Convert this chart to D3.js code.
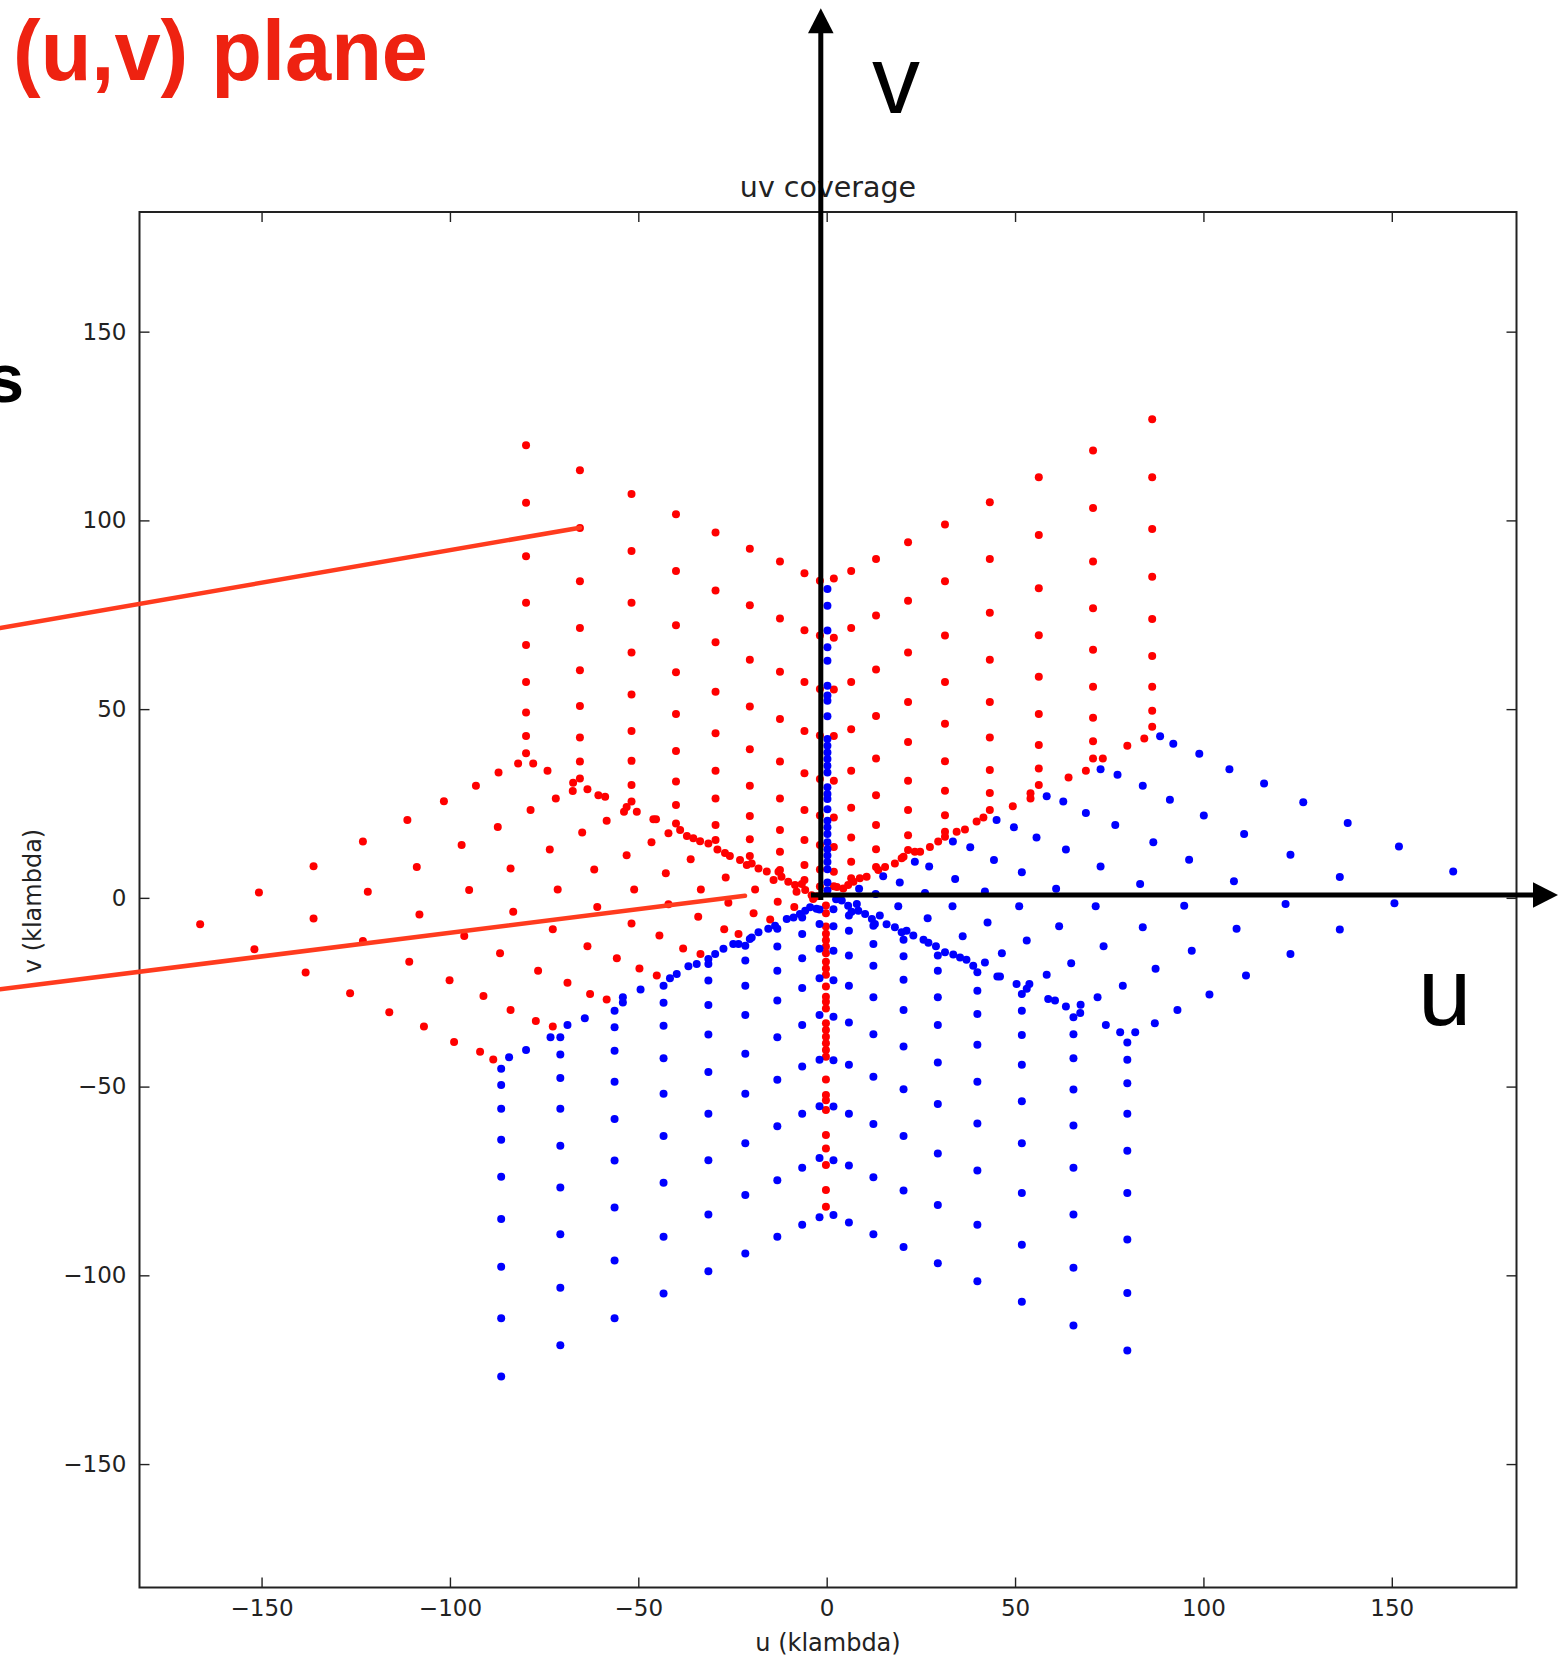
<!DOCTYPE html>
<html>
<head>
<meta charset="utf-8">
<script src="https://cdn.jsdelivr.net/npm/d3@7"></script>
<style>
  html, body { margin: 0; padding: 0; background: #fff; }
  svg { display: block; }
</style>
</head>
<body>
<div id="chart"></div>
<script>
// uv coverage: red = measured baselines, blue = their conjugates

const tickValues = [-150, -100, -50, 0, 50, 100, 150];

// red, upper-left block: columns of constant u
const redUpLeftU = [-79.8, -65.5, -51.8, -40.0, -29.5, -20.4, -12.4, -5.9, -1.8];
const redUpLeftV = [
  [119.9, 104.7, 90.5, 78.2, 67.0, 57.2, 49.1, 42.9, 38.3],
  [113.3, 98.0, 83.9, 71.5, 60.3, 50.8, 42.5, 36.1, 31.6],
  [107.0, 91.9, 78.2, 65.0, 53.9, 44.2, 36.3, 29.9, 25.5],
  [101.6, 86.6, 72.2, 59.8, 48.7, 38.9, 30.8, 24.6, 19.7],
  [96.8, 81.4, 67.7, 54.6, 43.6, 33.7, 26.3, 19.3, 15.3],
  [92.5, 77.5, 63.1, 50.7, 39.4, 29.7, 21.7, 15.5, 11.1],
  [89.1, 74.0, 59.9, 47.4, 36.1, 26.3, 18.0, 12.2, 7.4],
  [86.0, 70.9, 57.2, 44.2, 33.0, 23.3, 15.3, 8.7, 4.7],
  [84.0, 69.5, 55.3, 43.0, 31.5, 21.8, 14.0, 7.5, 3.0]
];

// red, upper-right block
const redUpRightU = [1.9, 6.5, 13.1, 21.6, 31.4, 43.3, 56.3, 70.7, 86.4];
const redUpRightV = [
  [84.6, 68.9, 55.2, 42.9, 31.0, 21.3, 13.5, 6.9, 3.1],
  [86.6, 71.5, 57.2, 44.7, 33.7, 23.9, 16.0, 9.6, 5.2],
  [89.8, 74.8, 60.5, 48.2, 36.9, 27.2, 19.3, 12.9, 8.2],
  [94.2, 78.7, 65.0, 51.9, 41.3, 31.0, 23.3, 16.6, 12.7],
  [98.9, 83.9, 69.5, 57.2, 46.1, 36.2, 28.4, 21.9, 17.5],
  [104.8, 89.8, 75.5, 63.1, 51.9, 42.5, 33.9, 27.8, 23.3],
  [111.4, 96.1, 82.0, 69.6, 58.6, 48.7, 40.5, 34.3, 29.9],
  [118.5, 103.3, 89.1, 76.7, 65.7, 55.9, 47.7, 41.5, 36.9],
  [126.8, 111.4, 97.7, 85.1, 73.9, 64.1, 55.9, 49.6, 45.3]
];

// red, left block (u, v)
const redLeftPts = [
  [-166.3, -7.0], [-150.7, 1.4], [-136.2, 8.4], [-123.1, 14.9], [-111.3, 20.6], [-101.6, 25.6], [-93.1, 29.7], [-87.1, 33.2], [-81.9, 35.6],
  [-151.9, -13.6], [-136.2, -5.5], [-121.8, 1.6], [-108.8, 8.2], [-96.9, 14.0], [-87.3, 18.8], [-78.6, 23.3], [-71.9, 26.3], [-67.3, 30.5],
  [-138.3, -19.8], [-123.1, -11.4], [-108.1, -4.4], [-94.9, 2.1], [-83.9, 7.8], [-73.5, 12.8], [-64.9, 17.3], [-58.4, 20.4], [-53.8, 22.8],
  [-126.5, -25.3], [-110.8, -16.9], [-96.2, -10.1], [-83.2, -3.7], [-71.4, 2.2], [-61.7, 7.5], [-53.1, 11.3], [-46.5, 14.7], [-42.0, 17.1],
  [-116.1, -30.3], [-100.1, -21.8], [-86.7, -14.7], [-72.7, -8.3], [-60.9, -2.4], [-51.1, 2.2], [-42.7, 6.5], [-36.1, 10.2], [-31.4, 14.4],
  [-106.9, -34.1], [-91.1, -26.0], [-76.6, -19.3], [-63.5, -12.8], [-51.8, -6.8], [-42.0, -1.7], [-33.4, 2.2], [-26.8, 5.4], [-21.2, 8.7],
  [-98.9, -38.2], [-83.9, -29.7], [-68.8, -22.5], [-55.7, -16.0], [-44.4, -10.0], [-34.1, -5.0], [-26.1, -1.3], [-19.0, 2.2], [-14.1, 4.7],
  [-92.0, -40.8], [-77.2, -32.6], [-62.8, -25.5], [-49.7, -18.7], [-38.1, -13.4], [-27.2, -8.3], [-19.4, -4.1], [-13.0, -1.0], [-8.0, 1.6],
  [-88.5, -42.8], [-72.7, -34.1], [-58.4, -26.9], [-45.1, -20.6], [-33.5, -14.9], [-23.4, -9.6], [-15.0, -5.7], [-8.6, -2.4], [-3.6, -0.3]
];

// red, dense arm lines
const redArmUpLeft = [
  [-77.9, 35.6], [-74.1, 33.7], [-67.4, 28.3], [-63.5, 28.8], [-60.6, 27.2], [-58.8, 26.8], [-53.1, 24.1], [-50.4, 22.8],
  [-46.0, 20.8], [-45.3, 20.8], [-38.9, 18.0], [-37.1, 16.4], [-35.4, 15.8], [-33.6, 15.0], [-29.0, 12.8], [-27.0, 11.9],
  [-25.7, 11.1], [-23.0, 10.0], [-19.9, 9.1], [-18.1, 7.8], [-15.9, 7.0], [-12.8, 6.9], [-12.0, 5.6], [-10.2, 4.3],
  [-8.4, 3.4], [-6.6, 3.7], [-5.7, 2.1], [-4.0, 0.7], [-2.5, 0.4]
];
const redArmUpRight = [
  [84.3, 42.2], [79.8, 40.3], [73.3, 36.9], [68.8, 33.7], [64.2, 31.9], [54.1, 27.7], [54.1, 26.3], [49.4, 24.3],
  [41.6, 21.3], [39.8, 20.2], [36.7, 18.1], [34.5, 17.5], [31.4, 16.2], [29.6, 14.9], [27.4, 13.5], [24.8, 12.2],
  [23.4, 12.2], [20.4, 10.9], [19.9, 10.5], [18.1, 9.1], [15.5, 8.2], [13.7, 7.4], [10.6, 5.6], [8.8, 5.2],
  [7.1, 4.3], [5.7, 3.4], [4.4, 2.5], [2.7, 2.9]
];
const redArmDownU = -0.2;
const redArmDownV = [-2.0, -4.1, -7.6, -9.5, -11.2, -12.9, -14.7, -16.9, -18.7, -20.4, -23.5, -26.2, -27.5, -29.3,
  -33.2, -35.0, -36.8, -38.5, -40.3, -42.1, -48.1, -52.2, -53.6, -56.2, -62.8, -66.4, -70.8, -77.4, -81.8];

// blue, lower-right block
const blueLowRightU = [79.8, 65.5, 51.8, 40.0, 29.5, 20.4, 12.4, 5.9, 1.8];
const blueLowRightV = [
  [-119.9, -104.7, -90.5, -78.2, -67.0, -57.2, -49.1, -42.9, -38.3],
  [-113.3, -98.0, -83.9, -71.5, -60.3, -50.8, -42.5, -36.1, -31.6],
  [-107.0, -91.9, -78.2, -65.0, -53.9, -44.2, -36.3, -29.9, -25.5],
  [-101.6, -86.6, -72.2, -59.8, -48.7, -38.9, -30.8, -24.6, -19.7],
  [-96.8, -81.4, -67.7, -54.6, -43.6, -33.7, -26.3, -19.3, -15.3],
  [-92.5, -77.5, -63.1, -50.7, -39.4, -29.7, -21.7, -15.5, -11.1],
  [-89.1, -74.0, -59.9, -47.4, -36.1, -26.3, -18.0, -12.2, -7.4],
  [-86.0, -70.9, -57.2, -44.2, -33.0, -23.3, -15.3, -8.7, -4.7],
  [-84.0, -69.5, -55.3, -43.0, -31.5, -21.8, -14.0, -7.5, -3.0]
];

// blue, lower-left block
const blueLowLeftU = [-1.9, -6.5, -13.1, -21.6, -31.4, -43.3, -56.3, -70.7, -86.4];
const blueLowLeftV = [
  [-84.6, -68.9, -55.2, -42.9, -31.0, -21.3, -13.5, -6.9, -3.1],
  [-86.6, -71.5, -57.2, -44.7, -33.7, -23.9, -16.0, -9.6, -5.2],
  [-89.8, -74.8, -60.5, -48.2, -36.9, -27.2, -19.3, -12.9, -8.2],
  [-94.2, -78.7, -65.0, -51.9, -41.3, -31.0, -23.3, -16.6, -12.7],
  [-98.9, -83.9, -69.5, -57.2, -46.1, -36.2, -28.4, -21.9, -17.5],
  [-104.8, -89.8, -75.5, -63.1, -51.9, -42.5, -33.9, -27.8, -23.3],
  [-111.4, -96.1, -82.0, -69.6, -58.6, -48.7, -40.5, -34.3, -29.9],
  [-118.5, -103.3, -89.1, -76.7, -65.7, -55.9, -47.7, -41.5, -36.9],
  [-126.8, -111.4, -97.7, -85.1, -73.9, -64.1, -55.9, -49.6, -45.3]
];

// blue, right block
const blueRightPts = [
  [166.3, 7.0], [150.7, -1.4], [136.2, -8.4], [123.1, -14.9], [111.3, -20.6], [101.6, -25.6], [93.1, -29.7], [87.1, -33.2], [81.9, -35.6],
  [151.9, 13.6], [136.2, 5.5], [121.8, -1.6], [108.8, -8.2], [96.9, -14.0], [87.3, -18.8], [78.6, -23.3], [71.9, -26.3], [67.3, -30.5],
  [138.3, 19.8], [123.1, 11.4], [108.1, 4.4], [94.9, -2.1], [83.9, -7.8], [73.5, -12.8], [64.9, -17.3], [58.4, -20.4], [53.8, -22.8],
  [126.5, 25.3], [110.8, 16.9], [96.2, 10.1], [83.2, 3.7], [71.4, -2.2], [61.7, -7.5], [53.1, -11.3], [46.5, -14.7], [42.0, -17.1],
  [116.1, 30.3], [100.1, 21.8], [86.7, 14.7], [72.7, 8.3], [60.9, 2.4], [51.1, -2.2], [42.7, -6.5], [36.1, -10.2], [31.4, -14.4],
  [106.9, 34.1], [91.1, 26.0], [76.6, 19.3], [63.5, 12.8], [51.8, 6.8], [42.0, 1.7], [33.4, -2.2], [26.8, -5.4], [21.2, -8.7],
  [98.9, 38.2], [83.9, 29.7], [68.8, 22.5], [55.7, 16.0], [44.4, 10.0], [34.1, 5.0], [26.1, 1.3], [19.0, -2.2], [14.1, -4.7],
  [92.0, 40.8], [77.2, 32.6], [62.8, 25.5], [49.7, 18.7], [38.1, 13.4], [27.2, 8.3], [19.4, 4.1], [13.0, 1.0], [8.0, -1.6],
  [88.5, 42.8], [72.7, 34.1], [58.4, 26.9], [45.1, 20.6], [33.5, 14.9], [23.4, 9.6], [15.0, 5.7], [8.6, 2.4], [3.6, 0.3]
];

// blue, dense arm lines
const blueArmLowRight = [
  [77.9, -35.6], [74.1, -33.7], [67.4, -28.3], [63.5, -28.8], [60.6, -27.2], [58.8, -26.8], [53.1, -24.1], [50.4, -22.8],
  [46.0, -20.8], [45.3, -20.8], [38.9, -18.0], [37.1, -16.4], [35.4, -15.8], [33.6, -15.0], [29.0, -12.8], [27.0, -11.9],
  [25.7, -11.1], [23.0, -10.0], [19.9, -9.1], [18.1, -7.8], [15.9, -7.0], [12.8, -6.9], [12.0, -5.6], [10.2, -4.3],
  [8.4, -3.4], [6.6, -3.7], [5.7, -2.1], [4.0, -0.7], [2.5, -0.4]
];
const blueArmLowLeft = [
  [-84.3, -42.2], [-79.8, -40.3], [-73.3, -36.9], [-68.8, -33.7], [-64.2, -31.9], [-54.1, -27.7], [-54.1, -26.3], [-49.4, -24.3],
  [-41.6, -21.3], [-39.8, -20.2], [-36.7, -18.1], [-34.5, -17.5], [-31.4, -16.2], [-29.6, -14.9], [-27.4, -13.5], [-24.8, -12.2],
  [-23.4, -12.2], [-20.4, -10.9], [-19.9, -10.5], [-18.1, -9.1], [-15.5, -8.2], [-13.7, -7.4], [-10.6, -5.6], [-8.8, -5.2],
  [-7.1, -4.3], [-5.7, -3.4], [-4.4, -2.5], [-2.7, -2.9]
];
const blueArmUpU = 0.2;
const blueArmUpV = [2.0, 4.1, 7.6, 9.5, 11.2, 12.9, 14.7, 16.9, 18.7, 20.4, 23.5, 26.2, 27.5, 29.3,
  33.2, 35.0, 36.8, 38.5, 40.3, 42.1, 48.1, 52.2, 53.6, 56.2, 62.8, 66.4, 70.8, 77.4, 81.8];

// build point tables
function fromColumns(us, vs) {
  return us.flatMap((u, i) => vs[i].map(v => [u, v]));
}
const redPoints = [].concat(
  fromColumns(redUpLeftU, redUpLeftV),
  fromColumns(redUpRightU, redUpRightV),
  redLeftPts, redArmUpLeft, redArmUpRight,
  redArmDownV.map(v => [redArmDownU, v])
);
const bluePoints = [].concat(
  fromColumns(blueLowRightU, blueLowRightV),
  fromColumns(blueLowLeftU, blueLowLeftV),
  blueRightPts, blueArmLowRight, blueArmLowLeft,
  blueArmUpV.map(v => [blueArmUpU, v])
);

// page + plot box
const W = 1560, H = 1664;
const box = { left: 139.5, right: 1516.5, top: 212, bottom: 1587.5 };

const svg = d3.select("#chart")
  .append("svg")
  .attr("width", W)
  .attr("height", H);

const x = d3.scaleLinear()
  .domain([-182.4, 183.1])
  .range([box.left, box.right]);

const y = d3.scaleLinear()
  .domain([-182.7, 181.7])
  .range([box.bottom, box.top]);

const tickFont = "'DejaVu Sans', sans-serif";

// axes, ticks pointing inward on all four sides
function styleAxis(g) {
  g.select(".domain").remove();
  g.selectAll(".tick line").attr("stroke", "#222").attr("stroke-width", 1.4);
  g.selectAll(".tick text")
    .attr("fill", "#222")
    .style("font-family", tickFont)
    .style("font-size", "23px");
}

svg.append("g")
  .attr("transform", `translate(0,${box.bottom})`)
  .call(d3.axisBottom(x).tickValues(tickValues).tickSize(-10).tickPadding(12))
  .call(styleAxis);

svg.append("g")
  .attr("transform", `translate(0,${box.top})`)
  .call(d3.axisTop(x).tickValues(tickValues).tickSize(-10).tickFormat(""))
  .call(styleAxis);

svg.append("g")
  .attr("transform", `translate(${box.left},0)`)
  .call(d3.axisLeft(y).tickValues(tickValues).tickSize(-10).tickPadding(13))
  .call(styleAxis);

svg.append("g")
  .attr("transform", `translate(${box.right},0)`)
  .call(d3.axisRight(y).tickValues(tickValues).tickSize(-10).tickFormat(""))
  .call(styleAxis);

// points
const dotR = 4.0;
svg.append("g").selectAll("circle")
  .data(redPoints)
  .enter()
  .append("circle")
  .attr("cx", d => x(d[0]))
  .attr("cy", d => y(d[1]))
  .attr("r", dotR)
  .attr("fill", "#ff0000");

svg.append("g").selectAll("circle")
  .data(bluePoints)
  .enter()
  .append("circle")
  .attr("cx", d => x(d[0]))
  .attr("cy", d => y(d[1]))
  .attr("r", dotR)
  .attr("fill", "#0000ff");

// frame
svg.append("rect")
  .attr("x", box.left)
  .attr("y", box.top)
  .attr("width", box.right - box.left)
  .attr("height", box.bottom - box.top)
  .attr("fill", "none")
  .attr("stroke", "#222")
  .attr("stroke-width", 2);

// titles
svg.append("text")
  .attr("x", (box.left + box.right) / 2)
  .attr("y", 197)
  .attr("text-anchor", "middle")
  .attr("fill", "#222")
  .style("font-family", tickFont)
  .style("font-size", "28.5px")
  .text("uv coverage");

svg.append("text")
  .attr("x", (box.left + box.right) / 2)
  .attr("y", 1651)
  .attr("text-anchor", "middle")
  .attr("fill", "#222")
  .style("font-family", tickFont)
  .style("font-size", "24px")
  .text("u (klambda)");

svg.append("text")
  .attr("transform", "translate(41,901) rotate(-90)")
  .attr("text-anchor", "middle")
  .attr("fill", "#222")
  .style("font-family", tickFont)
  .style("font-size", "24px")
  .text("v (klambda)");

// slide annotations on top
const annRed = "#ff3b1e";
const pointers = [
  [[0, 628], [580, 527.7]],
  [[0, 989.3], [745, 895.7]]
];
svg.append("g").selectAll("path")
  .data(pointers)
  .enter()
  .append("path")
  .attr("d", d => d3.line()(d))
  .attr("stroke", annRed)
  .attr("stroke-width", 4.5)
  .attr("stroke-linecap", "round")
  .attr("fill", "none");

const axisArrows = svg.append("g");
// v arrow
axisArrows.append("line")
  .attr("x1", 820.8).attr("y1", 900)
  .attr("x2", 820.8).attr("y2", 30)
  .attr("stroke", "#000").attr("stroke-width", 5);
axisArrows.append("path")
  .attr("d", "M820.8,8.3 L808,33.3 L833.6,33.3 Z")
  .attr("fill", "#000");
// u arrow
axisArrows.append("line")
  .attr("x1", 811).attr("y1", 895)
  .attr("x2", 1536).attr("y2", 895)
  .attr("stroke", "#000").attr("stroke-width", 5);
axisArrows.append("path")
  .attr("d", "M1558,895 L1533,882.2 L1533,907.8 Z")
  .attr("fill", "#000");

const slideFont = "'Liberation Sans', Arial, Helvetica, sans-serif";

svg.append("text")
  .attr("x", 872)
  .attr("y", 113)
  .attr("fill", "#000")
  .style("font-family", slideFont)
  .style("font-size", "96px")
  .text("v");

svg.append("text")
  .attr("x", 1418)
  .attr("y", 1025)
  .attr("fill", "#000")
  .style("font-family", slideFont)
  .style("font-size", "96px")
  .text("u");

svg.append("text")
  .attr("x", 13)
  .attr("y", 80)
  .attr("fill", "#ee2211")
  .attr("textLength", 415)
  .attr("lengthAdjust", "spacingAndGlyphs")
  .style("font-family", slideFont)
  .style("font-weight", "bold")
  .style("font-size", "85px")
  .text("(u,v) plane");

// fragment of a word that runs off the slide's left edge
svg.append("text")
  .attr("x", 24)
  .attr("y", 402)
  .attr("text-anchor", "end")
  .attr("fill", "#000")
  .style("font-family", slideFont)
  .style("font-weight", "bold")
  .style("font-size", "68px")
  .text("s");
</script>
</body>
</html>
